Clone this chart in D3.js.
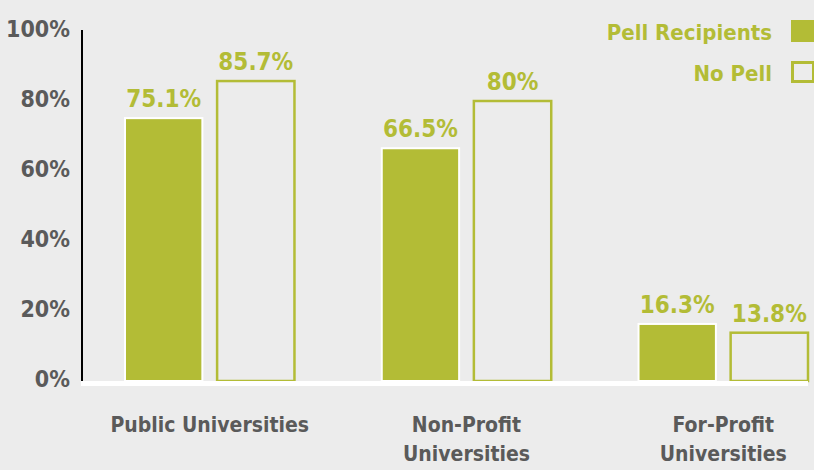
<!DOCTYPE html>
<html>
<head>
<meta charset="utf-8">
<script src="https://cdn.jsdelivr.net/npm/d3@7"></script>
<style>
  html, body { margin: 0; padding: 0; background: #ececec; }
  svg { display: block; font-family: 'Liberation Sans Narrow', 'DejaVu Sans Condensed', sans-serif; font-weight: bold; }
</style>
</head>
<body>
<div id="chart"></div>
<script>
const categories = ['Public Universities', 'Non-Profit Universities', 'For-Profit Universities'];
const categoryLines = [['Public Universities'], ['Non-Profit', 'Universities'], ['For-Profit', 'Universities']];
const seriesNames = ['Pell Recipients', 'No Pell'];
const pellValues = [75.1, 66.5, 16.3];
const noPellValues = [85.7, 80, 13.8];
const yTicks = [0, 20, 40, 60, 80, 100];

const olive = '#b3bc36';
const grey = '#5a5a5a';
const bg = '#ececec';

const width = 814, height = 470;

const svg = d3.select('#chart').append('svg')
    .attr('width', width)
    .attr('height', height);

svg.append('rect')
    .attr('width', width)
    .attr('height', height)
    .attr('fill', bg);

const x0 = d3.scaleBand()
    .domain(categories)
    .range([125, 808])
    .paddingInner(0.34)
    .paddingOuter(0);

const x1 = d3.scaleBand()
    .domain(seriesNames)
    .range([0, x0.bandwidth()])
    .paddingInner(0.16)
    .paddingOuter(0);

const y = d3.scaleLinear()
    .domain([0, 100])
    .range([381, 31]);

const data = categories.map((c, i) => ({
    category: c,
    lines: categoryLines[i],
    values: [
        {series: seriesNames[0], value: pellValues[i]},
        {series: seriesNames[1], value: noPellValues[i]}
    ]
}));

// y axis: labels only, plus black vertical line
const yAxis = svg.append('g')
    .attr('transform', 'translate(82,0)')
    .call(d3.axisLeft(y).tickValues(yTicks).tickSize(0).tickPadding(12).tickFormat(d => d + '%'));
yAxis.select('.domain').remove();
yAxis.selectAll('text')
    .attr('dy', '0.36em')
    .attr('y', -3)
    .style('font-family', "'Liberation Sans Narrow', 'DejaVu Sans Condensed', sans-serif")
    .style('font-weight', 'bold')
    .style('font-size', '23px')
    .style('fill', grey);

svg.append('line')
    .attr('x1', 82).attr('x2', 82)
    .attr('y1', y(100) - 1).attr('y2', y(0))
    .attr('stroke', '#000')
    .attr('stroke-width', 2);

// bars
const group = svg.selectAll('.group')
    .data(data)
    .enter().append('g')
    .attr('class', 'group')
    .attr('transform', d => `translate(${x0(d.category)},0)`);

group.selectAll('rect')
    .data(d => d.values)
    .enter().append('rect')
    .attr('x', d => x1(d.series))
    .attr('y', d => y(d.value))
    .attr('width', x1.bandwidth())
    .attr('height', d => y(0) - y(d.value))
    .attr('fill', d => d.series === seriesNames[0] ? olive : bg)
    .attr('stroke', d => d.series === seriesNames[0] ? '#fff' : olive)
    .attr('stroke-width', d => d.series === seriesNames[0] ? 2 : 2.5);

group.selectAll('.val')
    .data(d => d.values)
    .enter().append('text')
    .attr('class', 'val')
    .attr('x', d => x1(d.series) + x1.bandwidth() / 2)
    .attr('y', d => y(d.value) - 11)
    .attr('text-anchor', 'middle')
    .style('font-size', '24px')
    .style('fill', olive)
    .text(d => d.value + '%');

// white baseline
svg.append('line')
    .attr('x1', 81).attr('x2', 808)
    .attr('y1', y(0) + 2.5).attr('y2', y(0) + 2.5)
    .attr('stroke', '#fff')
    .attr('stroke-width', 5);

// category labels
const catLabel = svg.selectAll('.cat')
    .data(data)
    .enter().append('text')
    .attr('class', 'cat')
    .attr('text-anchor', 'middle')
    .attr('x', d => x0(d.category) + x0.bandwidth() / 2)
    .attr('y', 432)
    .style('font-size', '21px')
    .style('fill', grey);

catLabel.selectAll('tspan')
    .data(d => d.lines)
    .enter().append('tspan')
    .attr('x', function() { return d3.select(this.parentNode).attr('x'); })
    .attr('dy', (d, i) => i === 0 ? 0 : 29)
    .text(d => d);

// legend
const legend = svg.selectAll('.legend')
    .data(seriesNames)
    .enter().append('g')
    .attr('class', 'legend')
    .attr('transform', (d, i) => `translate(0,${20 + i * 41})`);

legend.append('text')
    .attr('x', 772)
    .attr('y', 20)
    .attr('text-anchor', 'end')
    .style('font-size', '22px')
    .style('fill', olive)
    .text(d => d);

legend.append('rect')
    .attr('x', (d, i) => i === 0 ? 791 : 792.5)
    .attr('y', (d, i) => i === 0 ? 0 : 1.5)
    .attr('width', (d, i) => i === 0 ? 23 : 21)
    .attr('height', (d, i) => i === 0 ? 22 : 19)
    .attr('fill', (d, i) => i === 0 ? olive : 'none')
    .attr('stroke', (d, i) => i === 0 ? 'none' : olive)
    .attr('stroke-width', 3);
</script>
</body>
</html>
